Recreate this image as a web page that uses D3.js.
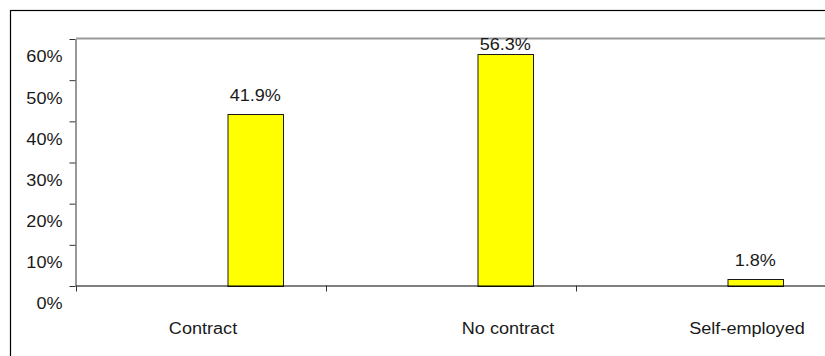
<!DOCTYPE html>
<html>
<head>
<meta charset="utf-8">
<script src="https://cdn.jsdelivr.net/npm/d3@7"></script>
<style>
  html, body { margin: 0; padding: 0; background: #fff; }
  svg { display: block; }
  text { font-family: "Liberation Sans", Arial, sans-serif; fill: #1a1a1a; }
</style>
</head>
<body>
<svg id="chart" width="825" height="356"></svg>
<script>
// Employment categories and their share of respondents (%)
const categories = ["Contract", "No contract", "Self-employed"];
const shares = [41.9, 56.3, 1.8];
const yTicks = [0, 10, 20, 30, 40, 50, 60];

// Layout
const W = 825, H = 356;
const plot = { left: 76, right: 826, top: 39, bottom: 286 };
const fontSize = 16;
const stretch = 1.13;              // wide-set lettering
const barStart = 0.606, barWidth = 0.222;   // bar placement inside each band
const catLabelDx = [2, 57, 46];    // horizontal nudge of each category label
const catLabelY = 334;

const svg = d3.select("#chart");

const x = d3.scaleBand().domain(categories).range([plot.left, plot.right]).padding(0);
const y = d3.scaleLinear().domain([0, 60]).range([plot.bottom, plot.top]);

// outer chart frame
svg.append("rect")
  .attr("x", 10.5).attr("y", 10.5)
  .attr("width", W + 20).attr("height", H + 20)
  .attr("fill", "none").attr("stroke", "#000").attr("stroke-width", 1.2);

// plot area top edge
svg.append("line")
  .attr("x1", plot.left).attr("x2", W)
  .attr("y1", plot.top - 0.5).attr("y2", plot.top - 0.5)
  .attr("stroke", "#9a9a9a").attr("stroke-width", 2);

// bars
svg.append("g").selectAll("rect")
  .data(categories)
  .join("rect")
  .attr("x", (d) => x(d) + x.bandwidth() * barStart + 0.5)
  .attr("y", (d, i) => Math.round(y(shares[i])) + 0.5)
  .attr("width", x.bandwidth() * barWidth)
  .attr("height", (d, i) => Math.round(y(0)) - Math.round(y(shares[i])))
  .attr("fill", "#ffff00")
  .attr("stroke", "#1a1a1a")
  .attr("stroke-width", 1);

// value labels above the bars, kept inside the plot area
svg.append("g").selectAll("text")
  .data(categories)
  .join("text")
  .attr("transform", (d, i) => {
    const cx = x(d) + x.bandwidth() * (barStart + barWidth / 2);
    const by = Math.max(y(shares[i]) - 13, plot.top + 11);
    return `translate(${cx},${by}) scale(${stretch},1)`;
  })
  .attr("text-anchor", "middle")
  .attr("font-size", fontSize)
  .text((d, i) => d3.format(".1f")(shares[i]) + "%");

// value axis
const yAxis = svg.append("g")
  .attr("transform", `translate(${plot.left - 0.5},0)`)
  .call(d3.axisLeft(y).tickValues(yTicks).tickSize(6).tickSizeOuter(0)
    .tickFormat((d) => d + "%"));
yAxis.select(".domain").attr("stroke", "#333");
yAxis.selectAll(".tick line").attr("stroke", "#333");
yAxis.selectAll(".tick text")
  .attr("x", -13 / stretch)
  .attr("dy", null)
  .attr("y", 23)
  .attr("transform", `scale(${stretch},1)`)
  .attr("font-size", fontSize)
  .attr("font-family", null)
  .attr("fill", "#1a1a1a");

// category axis
const xAxis = svg.append("g")
  .attr("transform", `translate(0,${plot.bottom - 0.5})`)
  .call(d3.axisBottom(x).tickSize(0).tickSizeOuter(0).tickFormat(""));
xAxis.select(".domain").attr("stroke", "#000");
xAxis.selectAll(".tick").remove();

// category separators
xAxis.selectAll(".sep")
  .data(categories)
  .join("line")
  .attr("class", "sep")
  .attr("x1", (d) => Math.round(x(d)) + 0.5)
  .attr("x2", (d) => Math.round(x(d)) + 0.5)
  .attr("y1", 0).attr("y2", 6)
  .attr("stroke", "#333");

// category labels
svg.append("g").selectAll("text")
  .data(categories)
  .join("text")
  .attr("transform", (d, i) =>
    `translate(${x(d) + x.bandwidth() / 2 + catLabelDx[i]},${catLabelY}) scale(${stretch},1)`)
  .attr("text-anchor", "middle")
  .attr("font-size", fontSize)
  .text((d) => d);
</script>
</body>
</html>
